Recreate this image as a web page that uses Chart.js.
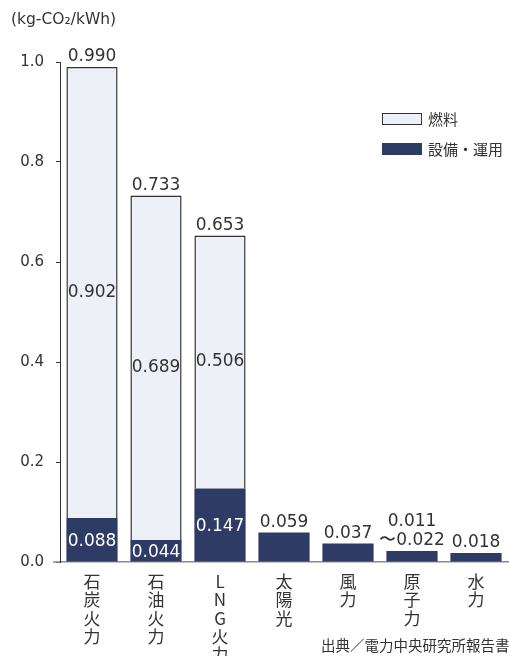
<!DOCTYPE html>
<html>
<head>
<meta charset="utf-8">
<script src="https://cdn.jsdelivr.net/npm/chart.js@4/dist/chart.umd.min.js"></script>
<style>
  html, body { margin: 0; padding: 0; background: #ffffff; }
  canvas { display: block; }
</style>
</head>
<body>
<canvas id="co2Chart" width="510" height="656"></canvas>
<script>
// Values (kg-CO2/kWh)
const categories = [
    ['石', '炭', '火', '力'],
    ['石', '油', '火', '力'],
    ['L', 'N', 'G', '火', '力'],
    ['太', '陽', '光'],
    ['風', '力'],
    ['原', '子', '力'],
    ['水', '力']
];
const fuel = [0.902, 0.689, 0.506, null, null, null, null];
const equipment = [0.088, 0.044, 0.147, 0.059, 0.037, 0.022, 0.018];
const totalLabels = ['0.990', '0.733', '0.653', '0.059', '0.037', ['0.011', '〜0.022'], '0.018'];
const yTicks = [0, 0.2, 0.4, 0.6, 0.8, 1.0];

const fuelColor = '#eef0f7';
const equipColor = '#2e3b64';
const lineColor = '#333333';
const textColor = '#333333';
const numFont = "'DejaVu Sans', sans-serif";
const jpFont = "'Noto Sans CJK JP', sans-serif";

// value labels, legend, unit and source note
const annotations = {
    id: 'annotations',
    afterDatasetsDraw(chart) {
        const ctx = chart.ctx;
        const area = chart.chartArea;
        const equipMeta = chart.getDatasetMeta(0);
        const fuelMeta = chart.getDatasetMeta(1);
        ctx.save();

        // x axis line runs a little past the y axis
        ctx.strokeStyle = '#8a8a8a';
        ctx.lineWidth = 1.5;
        ctx.beginPath();
        ctx.moveTo(53, area.bottom);
        ctx.lineTo(area.left, area.bottom);
        ctx.stroke();

        ctx.textAlign = 'center';
        ctx.font = '17px ' + numFont;

        categories.forEach((c, i) => {
            const eq = equipMeta.data[i];
            const fu = fuelMeta.data[i];
            const hasFuel = fuel[i] !== null;

            if (hasFuel) {
                ctx.fillStyle = textColor;
                ctx.textBaseline = 'middle';
                ctx.fillText(fuel[i].toFixed(3), fu.x, (fu.y + fu.base) / 2);
                ctx.fillStyle = '#ffffff';
                ctx.fillText(equipment[i].toFixed(3), eq.x, (eq.y + eq.base) / 2 + 2);
            }

            const top = hasFuel ? fu.y : eq.y;
            const lines = [].concat(totalLabels[i]);
            ctx.fillStyle = textColor;
            ctx.textBaseline = 'alphabetic';
            lines.slice().reverse().forEach((t, k) => {
                ctx.fillText(t, eq.x, top - 6 - k * 19);
            });
        });

        // legend
        ctx.lineWidth = 1;
        ctx.strokeStyle = lineColor;
        ctx.fillStyle = fuelColor;
        ctx.fillRect(382.5, 113.5, 39, 11);
        ctx.strokeRect(382.5, 113.5, 39, 11);
        ctx.fillStyle = equipColor;
        ctx.fillRect(382, 143, 40, 12);
        ctx.fillStyle = textColor;
        ctx.textAlign = 'left';
        ctx.textBaseline = 'middle';
        ctx.font = '15px ' + jpFont;
        ctx.fillText('燃料', 428, 119);
        ctx.fillText('設備・運用', 428, 149);

        // unit
        ctx.font = '15.5px ' + numFont;
        ctx.fillText('(kg-CO₂/kWh)', 11, 20);

        // source
        ctx.font = '14.5px ' + jpFont;
        ctx.fillText('出典／電力中央研究所報告書', 321, 645);
        ctx.restore();
    }
};

new Chart(document.getElementById('co2Chart'), {
    type: 'bar',
    data: {
        labels: categories,
        datasets: [
            {
                label: '設備・運用',
                data: equipment,
                backgroundColor: equipColor,
                borderWidth: 0,
                categoryPercentage: 1.0,
                barPercentage: 0.8
            },
            {
                label: '燃料',
                data: fuel,
                backgroundColor: fuelColor,
                borderColor: lineColor,
                borderWidth: 1.5,
                categoryPercentage: 1.0,
                barPercentage: 0.8
            }
        ]
    },
    options: {
        responsive: false,
        animation: false,
        layout: { padding: { top: 62, right: 2, left: 0, bottom: 0 } },
        plugins: {
            legend: { display: false },
            tooltip: { enabled: false }
        },
        scales: {
            x: {
                stacked: true,
                grid: { display: false },
                border: { display: true, color: '#8a8a8a', width: 1.5 },
                ticks: {
                    color: textColor,
                    font: { family: jpFont, size: 17, lineHeight: 1.06 },
                    padding: 3,
                    maxRotation: 0,
                    autoSkip: false
                },
                afterFit(scale) { scale.height = 94; }
            },
            y: {
                stacked: true,
                min: 0,
                max: 1,
                afterBuildTicks(scale) {
                    scale.ticks = yTicks.map(v => ({ value: v }));
                },
                grid: {
                    drawOnChartArea: false,
                    drawTicks: true,
                    tickLength: 4,
                    color: lineColor
                },
                border: { display: true, color: lineColor, width: 1 },
                ticks: {
                    color: textColor,
                    font: { family: numFont, size: 15 },
                    padding: 12,
                    callback: v => v.toFixed(1)
                },
                afterFit(scale) { scale.width = 60; }
            }
        }
    },
    plugins: [annotations]
});
</script>
</body>
</html>
